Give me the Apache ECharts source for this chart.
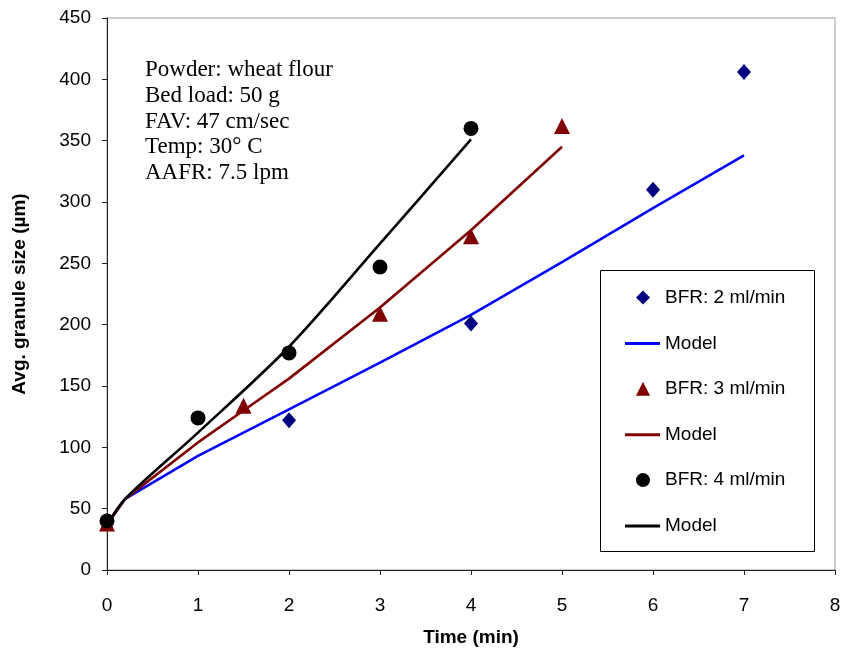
<!DOCTYPE html>
<html><head><meta charset="utf-8">
<script src="https://cdn.jsdelivr.net/npm/echarts@6/dist/echarts.min.js"></script>
<style>html,body{margin:0;padding:0;background:#fff}#c{width:842px;height:652px}</style>
</head><body><div id="c"></div>
<script>
// Measured data
const bfr2Time = [0, 2, 4, 6, 7];
const bfr2Size = [40, 122, 201, 310, 406];
const bfr3Time = [0, 1.5, 3, 4, 5];
const bfr3Size = [38, 134, 209, 272, 362];
const bfr4Time = [0, 1, 2, 3, 4];
const bfr4Size = [40, 124, 177, 247, 360];
// Model curves
const model2Time = [0, 0.2, 1, 2, 3, 4, 5, 6, 7];
const model2Size = [37, 58, 93, 131, 169, 208, 251, 295, 338];
const model3Time = [0, 0.2, 1, 1.5, 2, 3, 4, 5];
const model3Size = [37, 58, 104, 130, 156, 214, 277, 345];
const model4Time = [0, 0.2, 1, 2, 3, 4];
const model4Size = [37, 58, 112, 182, 266, 351];
const xTicks = [0, 1, 2, 3, 4, 5, 6, 7, 8];
const yTicks = [0, 50, 100, 150, 200, 250, 300, 350, 400, 450];
const infoLines = ['Powder: wheat flour', 'Bed load: 50 g', 'FAV: 47 cm/sec', 'Temp: 30° C', 'AAFR: 7.5 lpm'];
const pointNames = ['BFR: 2 ml/min', 'BFR: 3 ml/min', 'BFR: 4 ml/min'];
const modelNames = ['Model', 'Model ', 'Model  '];

const zip = (a, b) => a.map((v, i) => [v, b[i]]);
const chart = echarts.init(document.getElementById('c'));
const font = 'Arial, "Liberation Sans", sans-serif';
const legendText = {fontFamily: font, fontSize: 19, color: '#000'};
chart.setOption({
  animation: false,
  backgroundColor: '#fff',
  grid: {left: 107, right: 7, top: 18, bottom: 82, outerBoundsMode: 'none', containLabel: false,
         show: true, borderColor: '#9a9a9a', borderWidth: 1},
  xAxis: {
    type: 'value', min: xTicks[0], max: xTicks[xTicks.length - 1], interval: 1,
    name: 'Time (min)', nameLocation: 'middle', nameGap: 58,
    nameTextStyle: {fontFamily: font, fontSize: 19, fontWeight: 'bold', color: '#000'},
    axisLine: {onZero: false, lineStyle: {color: '#222', width: 1}},
    axisTick: {show: true, length: 5, lineStyle: {color: '#222'}},
    axisLabel: {margin: 26, fontFamily: font, fontSize: 19, color: '#000'},
    splitLine: {show: false}
  },
  yAxis: {
    type: 'value', min: yTicks[0], max: yTicks[yTicks.length - 1], interval: 50,
    name: 'Avg. granule size (µm)', nameLocation: 'middle', nameGap: 78,
    nameTextStyle: {fontFamily: font, fontSize: 19, fontWeight: 'bold', color: '#000'},
    axisLine: {show: true, lineStyle: {color: '#222', width: 1}},
    axisTick: {show: true, length: 5, lineStyle: {color: '#222'}},
    axisLabel: {margin: 16, fontFamily: font, fontSize: 19, color: '#000'},
    splitLine: {show: false}
  },
  legend: [
    {
      orient: 'vertical', left: 636, top: 288, padding: 0, itemWidth: 14, itemHeight: 14,
      itemGap: 72.3, symbolKeepAspect: true,
      textStyle: Object.assign({padding: [0, 0, 0, 10]}, legendText),
      data: pointNames
    },
    {
      orient: 'vertical', left: 625, top: 334, padding: 0, itemWidth: 35, itemHeight: 3,
      itemGap: 72.3,
      formatter: n => n.trim(),
      textStyle: legendText,
      data: modelNames.map(n => ({name: n, icon: 'rect'}))
    }
  ],
  graphic: [
    {type: 'rect', left: 598, top: 268, shape: {width: 214, height: 281}, style: {fill: 'none', stroke: '#000', lineWidth: 1}, z: 0},
    {type: 'text', left: 145, top: 57, style: {text: infoLines.join('\n'), font: '23px "Liberation Serif", "Times New Roman", serif', lineHeight: 25.8, fill: '#000'}}
  ],
  series: [
    {name: modelNames[0], type: 'line', data: zip(model2Time, model2Size), symbol: 'none', lineStyle: {color: '#0000ff', width: 2.6}, itemStyle: {color: '#0000ff'}, z: 2},
    {name: modelNames[1], type: 'line', data: zip(model3Time, model3Size), symbol: 'none', lineStyle: {color: '#800000', width: 2.6}, itemStyle: {color: '#800000'}, z: 2},
    {name: modelNames[2], type: 'line', data: zip(model4Time, model4Size), symbol: 'none', smooth: 0.3, lineStyle: {color: '#000000', width: 2.6}, itemStyle: {color: '#000'}, z: 2},
    {name: pointNames[0], type: 'scatter', data: zip(bfr2Time, bfr2Size), symbol: 'diamond', symbolSize: [14, 16], itemStyle: {color: '#000080', opacity: 1}, z: 3},
    {name: pointNames[1], type: 'scatter', data: zip(bfr3Time, bfr3Size), symbol: 'triangle', symbolSize: 16, itemStyle: {color: '#800000', opacity: 1}, z: 3},
    {name: pointNames[2], type: 'scatter', data: zip(bfr4Time, bfr4Size), symbol: 'circle', symbolSize: 15, itemStyle: {color: '#000', opacity: 1}, z: 4}
  ]
});
</script></body></html>
